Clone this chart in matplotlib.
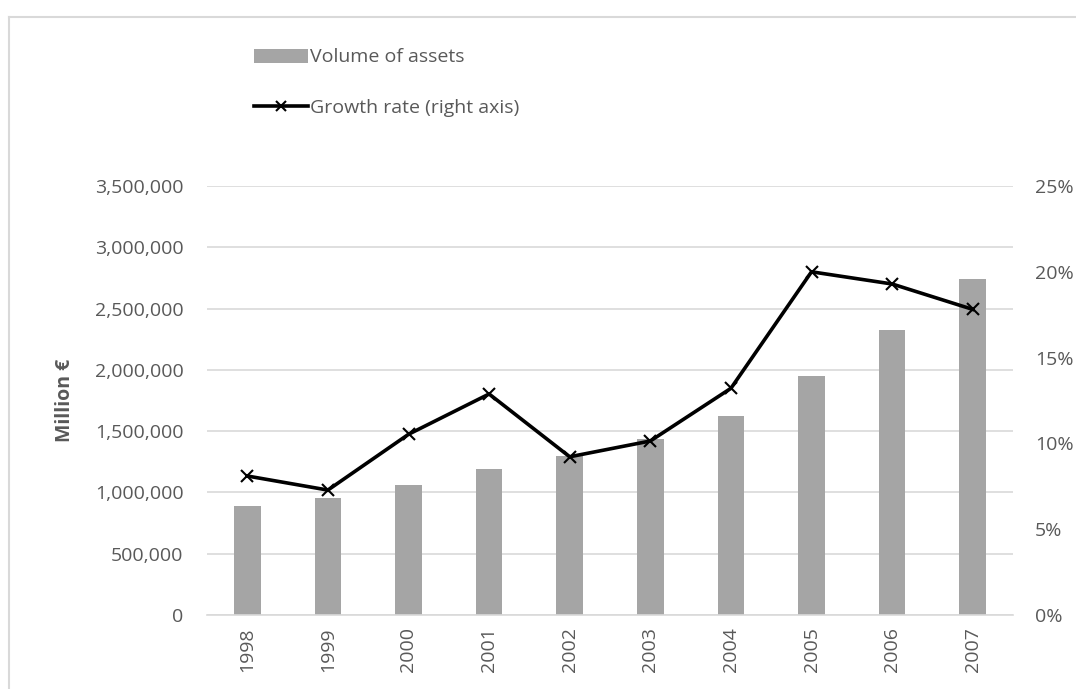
import matplotlib.pyplot as plt
from matplotlib.lines import Line2D
from matplotlib.patches import Patch
from matplotlib.ticker import FuncFormatter, MultipleLocator
import numpy as np

years = ["1998", "1999", "2000", "2001", "2002", "2003", "2004", "2005", "2006", "2007"]
assets = [889000, 954000, 1058000, 1191000, 1299000, 1436000, 1623000, 1947000, 2322000, 2741000]
growth = [8.1, 7.28, 10.53, 12.88, 9.22, 10.14, 13.21, 20.0, 19.29, 17.81]

plt.rcParams['font.family'] = ['Open Sans', 'DejaVu Sans']
text_col = "#595959"
grid_col = "#d9d9d9"
fs = 14

fig = plt.figure(figsize=(10.76, 6.89), dpi=100)

# outer chart frame (only top and left edges fall inside the image)
fig.add_artist(Line2D([8.5 / 1076, 8.5 / 1076], [0, 1 - 16.5 / 689], color=grid_col, lw=1.5))
fig.add_artist(Line2D([8.5 / 1076, 1], [1 - 16.5 / 689, 1 - 16.5 / 689], color=grid_col, lw=1.5))

ax = fig.add_axes([207 / 1076, 1 - 615 / 689, 806 / 1076, 429 / 689])
x = np.arange(len(years))
ax.bar(x, assets, width=0.33, color="#a5a5a5", zorder=2)
ax.set_xlim(-0.5, len(years) - 0.5)
ax.set_ylim(0, 3500000)
ax.yaxis.set_major_locator(MultipleLocator(500000))
ax.yaxis.set_major_formatter(FuncFormatter(lambda v, p: f"{int(v):,}"))
ax.grid(axis="y", color=grid_col, lw=1.2, zorder=0)
ax.set_xticks(x)
ax.set_xticklabels(years, rotation=90)
for s in ["top", "right", "left"]:
    ax.spines[s].set_visible(False)
ax.spines["bottom"].set_color(grid_col)
ax.spines["bottom"].set_linewidth(1.2)
ax.tick_params(axis="both", length=0, labelsize=fs, colors=text_col)
ax.tick_params(axis="y", pad=17)
ax.tick_params(axis="x", pad=9)
ax.set_ylabel("Million €", fontsize=fs, fontweight="bold", color=text_col, labelpad=14)

ax2 = ax.twinx()
ax2.plot(x, growth, color="black", lw=2.6, marker="x", markersize=8,
         markeredgewidth=1.5, zorder=3)
ax2.set_ylim(0, 25)
ax2.yaxis.set_major_locator(MultipleLocator(5))
ax2.yaxis.set_major_formatter(FuncFormatter(lambda v, p: f"{int(v)}%"))
for s in ["top", "right", "left", "bottom"]:
    ax2.spines[s].set_visible(False)
ax2.tick_params(axis="y", length=0, labelsize=fs, colors=text_col, pad=16)

handles = [
    Patch(facecolor="#a5a5a5", edgecolor="none", label="Volume of assets"),
    Line2D([0], [0], color="black", lw=2.6, marker="x", markersize=7,
           markeredgewidth=1.5, label="Growth rate (right axis)"),
]
fig.legend(handles=handles, loc="upper left", bbox_to_anchor=(236 / 1076, 1 - 31 / 689),
           frameon=False, fontsize=fs, labelcolor=text_col, handlelength=2.8,
           handletextpad=0.1, labelspacing=1.65)

fig.savefig("out.png", dpi=100)
